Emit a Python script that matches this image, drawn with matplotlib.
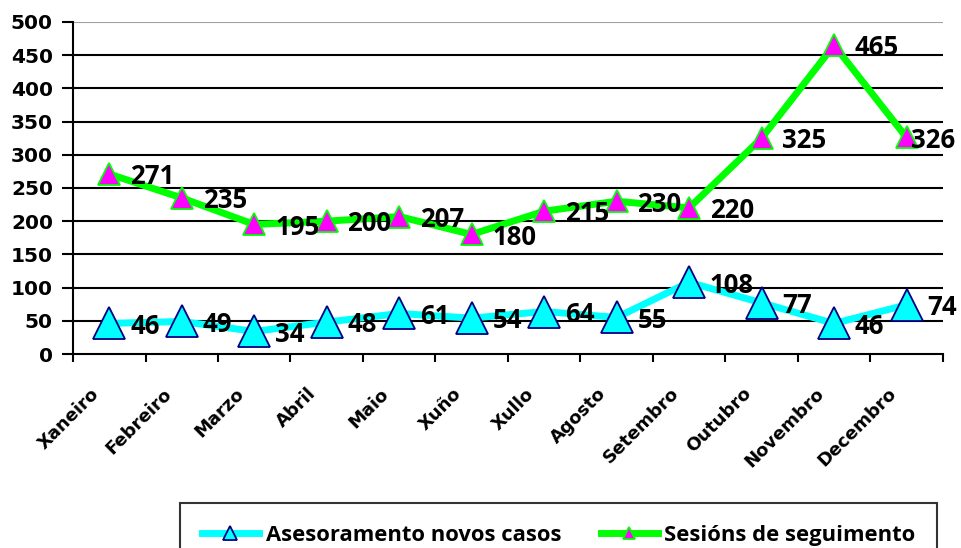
import matplotlib
matplotlib.use("Agg")
import matplotlib.pyplot as plt
import matplotlib.transforms as mtransforms
import numpy as np

months = ["Xaneiro", "Febreiro", "Marzo", "Abril", "Maio", "Xuño",
          "Xullo", "Agosto", "Setembro", "Outubro", "Novembro", "Decembro"]
novos_casos = [46, 49, 34, 48, 61, 54, 64, 55, 108, 77, 46, 74]
seguimento = [271, 235, 195, 200, 207, 180, 215, 230, 220, 325, 465, 326]
y_ticks = [0, 50, 100, 150, 200, 250, 300, 350, 400, 450, 500]

fig = plt.figure(figsize=(9.61, 5.48), dpi=100)
ax = fig.add_axes([0.076, 0.354, 0.905, 0.606])

x = np.arange(len(months))

ax.plot(x, novos_casos, color="#00ffff", lw=5, marker="^", markersize=23.5,
        markerfacecolor="#00ffff", markeredgecolor="#000080", markeredgewidth=1.3,
        label="Asesoramento novos casos", zorder=4)
ax.plot(x, seguimento, color="#00ff00", lw=5, marker="^", markersize=16,
        markerfacecolor="#ff00ff", markeredgecolor="#00ff00", markeredgewidth=1.3,
        label="Sesións de seguimento", zorder=4)

label_font = dict(fontsize=18.5, fontweight="bold", family="Open Sans")
for xi, v in zip(x, novos_casos):
    ax.annotate(str(v), (xi, v), xytext=(15, -2), textcoords="offset points",
                ha="left", va="center", zorder=5, **label_font)
for i, (xi, v) in enumerate(zip(x, seguimento)):
    dx = 3 if i == len(x) - 1 else 15
    ax.annotate(str(v), (xi, v), xytext=(dx, -2), textcoords="offset points",
                ha="left", va="center", zorder=5, **label_font)

ax.set_xlim(-0.5, len(months) - 0.5)
ax.set_ylim(0, 500)
ax.set_yticks(y_ticks)
ax.set_yticklabels([str(t) for t in y_ticks], fontsize=14.5, fontweight="bold")
for t in y_ticks[1:]:
    ax.axhline(t, color="#a0a0a0" if t == 500 else "black", lw=1.5, zorder=1)

ax.set_xticks(x)
ax.set_xticklabels(months, rotation=45, ha="right", rotation_mode="anchor",
                   fontsize=13, fontweight="bold")
ax.set_xticks(np.arange(len(months) + 1) - 0.5, minor=True)
ax.tick_params(axis="x", which="major", length=0, pad=22)
ax.tick_params(axis="x", which="minor", length=6, width=1.5, direction="out")
ax.tick_params(axis="y", length=8, width=1.5, direction="out", pad=6.5)

# shift month labels a bit to the left, like the original
shift = mtransforms.ScaledTranslation(-14 / 72, 0, fig.dpi_scale_trans)
for lbl in ax.get_xticklabels():
    lbl.set_transform(lbl.get_transform() + shift)

for s in ["top", "right"]:
    ax.spines[s].set_visible(False)
for s in ["left", "bottom"]:
    ax.spines[s].set_linewidth(1.5)

leg = fig.legend(loc="upper left", bbox_to_anchor=(180 / 961, 1 - 503 / 548),
                 ncol=2, frameon=True, fancybox=False,
                 prop={"family": "Open Sans", "weight": "bold", "size": 15.8},
                 handlelength=2.6, handletextpad=0.3, columnspacing=1.8,
                 borderpad=1.0, borderaxespad=0)
leg.get_frame().set_edgecolor("black")
leg.get_frame().set_linewidth(1.5)
leg.legend_handles[0].set_markersize(10)
leg.legend_handles[1].set_markersize(9)

fig.savefig("out.png", dpi=100)
